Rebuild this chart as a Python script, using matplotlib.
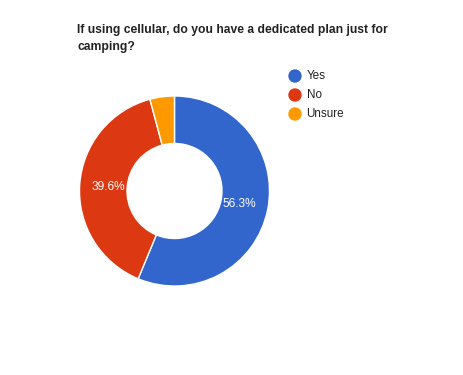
import matplotlib.pyplot as plt
from matplotlib.patches import Circle
from matplotlib.transforms import IdentityTransform

labels = ["Yes", "No", "Unsure"]
counts = [27, 19, 2]
pct_labels = ["56.3%", "39.6%", ""]  # as shown in the chart (tiny slice unlabeled)
colors = ["#3366cc", "#dc3912", "#ff9900"]

plt.rcParams['font.family'] = ['Liberation Sans', 'DejaVu Sans']

W, H = 463, 375
fig = plt.figure(figsize=(W / 100, H / 100), dpi=100)

# pie area in pixels: center (174.5, 191), radius 95
cx, cy, r = 174.5, 191, 95
ax = fig.add_axes([(cx - r) / W, (H - cy - r) / H, 2 * r / W, 2 * r / H])

lab_iter = iter(pct_labels)
wedges, texts, autotexts = ax.pie(
    counts, colors=colors, startangle=90, counterclock=False,
    radius=1, wedgeprops=dict(width=0.5, edgecolor="white", linewidth=1),
    autopct=lambda p: next(lab_iter), pctdistance=0.7,
    textprops=dict(color="white", fontsize=8.6))
ax.set_xlim(-1, 1)
ax.set_ylim(-1, 1)
ax.set_aspect("equal")
ax.axis("off")

title_lines = ["If using cellular, do you have a dedicated plan just for", "camping?"]
for i, line in enumerate(title_lines):
    fig.text(77 / W, 1 - (30 + i * 17) / H, line, fontsize=8.75,
             fontweight="bold", color="#222222", va="center")

# legend
for i, (lab, c) in enumerate(zip(labels, colors)):
    y = 76 + i * 19
    fig.add_artist(Circle((295, H - y), 6, color=c, transform=IdentityTransform()))
    fig.text(306.5 / W, 1 - y / H, lab, color="#222222", fontsize=8.4, va="center")

fig.savefig("out.png", dpi=100)
